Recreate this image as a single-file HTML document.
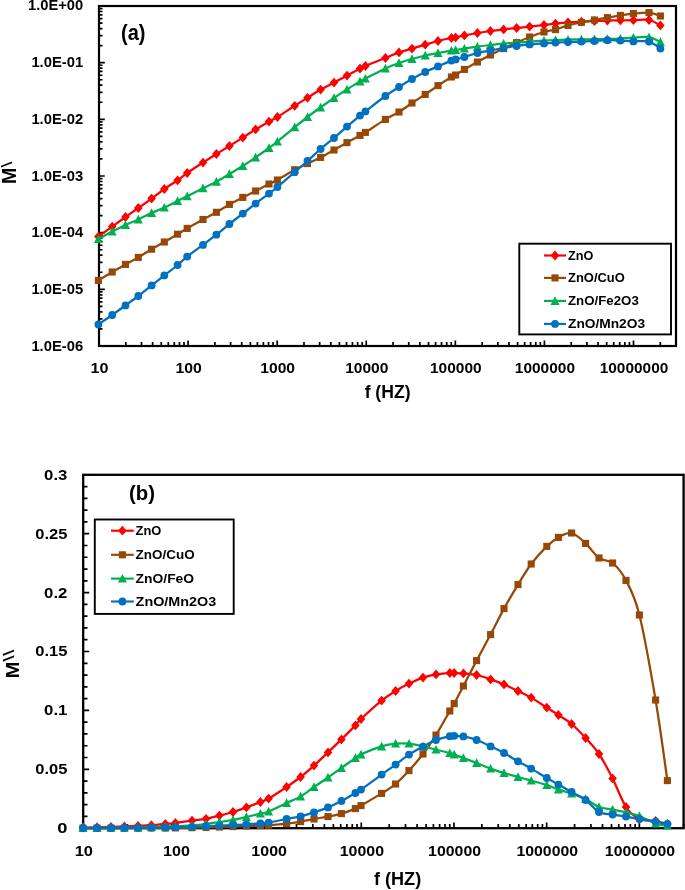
<!DOCTYPE html>
<html lang="en"><head><meta charset="utf-8"><title>Electric modulus plots</title>
<style>html,body{margin:0;padding:0;background:#fff}svg{display:block}text{font-family:"Liberation Sans",Arial,sans-serif;font-weight:bold;fill:#000}</style>
</head><body>
<svg width="685" height="890" viewBox="0 0 685 890">
<rect width="685" height="890" fill="#fff"/>
<g id="chart-a">
<path d="M99 62.67h5.8M99 45.61h3.5M99 35.63h3.5M99 28.55h3.5M99 23.06h3.5M99 18.57h3.5M99 14.78h3.5M99 11.49h3.5M99 8.59h3.5M99 119.33h5.8M99 102.27h3.5M99 92.3h3.5M99 85.22h3.5M99 79.73h3.5M99 75.24h3.5M99 71.44h3.5M99 68.16h3.5M99 65.26h3.5M99 176h5.8M99 158.94h3.5M99 148.96h3.5M99 141.88h3.5M99 136.39h3.5M99 131.9h3.5M99 128.11h3.5M99 124.82h3.5M99 121.93h3.5M99 232.67h5.8M99 215.61h3.5M99 205.63h3.5M99 198.55h3.5M99 193.06h3.5M99 188.57h3.5M99 184.78h3.5M99 181.49h3.5M99 178.59h3.5M99 289.33h5.8M99 272.27h3.5M99 262.3h3.5M99 255.22h3.5M99 249.73h3.5M99 245.24h3.5M99 241.44h3.5M99 238.16h3.5M99 235.26h3.5M99 346h5.8M99 328.94h3.5M99 318.96h3.5M99 311.88h3.5M99 306.39h3.5M99 301.9h3.5M99 298.11h3.5M99 294.82h3.5M99 291.93h3.5M99 6h5.8M99 346v-5.6M125.82 346v-4M141.5 346v-4M152.63 346v-4M161.27 346v-4M168.32 346v-4M174.28 346v-4M179.45 346v-4M184.01 346v-4M188.08 346v-5.6M214.9 346v-4M230.59 346v-4M241.72 346v-4M250.35 346v-4M257.4 346v-4M263.37 346v-4M268.53 346v-4M273.09 346v-4M277.17 346v-5.6M303.98 346v-4M319.67 346v-4M330.8 346v-4M339.43 346v-4M346.49 346v-4M352.45 346v-4M357.62 346v-4M362.17 346v-4M366.25 346v-5.6M393.06 346v-4M408.75 346v-4M419.88 346v-4M428.51 346v-4M435.57 346v-4M441.53 346v-4M446.7 346v-4M451.25 346v-4M455.33 346v-5.6M482.15 346v-4M497.83 346v-4M508.96 346v-4M517.6 346v-4M524.65 346v-4M530.61 346v-4M535.78 346v-4M540.34 346v-4M544.41 346v-5.6M571.23 346v-4M586.92 346v-4M598.05 346v-4M606.68 346v-4M613.73 346v-4M619.7 346v-4M624.86 346v-4M629.42 346v-4M633.5 346v-5.6M660.31 346v-4M676 346v-4" stroke="#000" stroke-width="1.7" fill="none"/>
<rect x="99" y="6" width="577" height="340" fill="none" stroke="#000" stroke-width="2.2"/>
<path d="M98.4 236.6C100.7 234.93 107.68 229.87 112.2 226.6C116.72 223.33 121.15 220.1 125.5 217C129.85 213.9 133.95 211.07 138.3 208C142.65 204.93 147.27 201.77 151.6 198.6C155.93 195.43 159.97 192.05 164.3 189C168.63 185.95 173.78 182.97 177.6 180.3C181.42 177.63 182.97 175.95 187.2 173C191.43 170.05 198.13 165.77 203 162.6C207.87 159.43 212 156.77 216.4 154C220.8 151.23 225 148.73 229.4 146C233.8 143.27 238.43 140.37 242.8 137.6C247.17 134.83 251.23 132.07 255.6 129.4C259.97 126.73 265.37 123.67 269 121.6C272.63 119.53 273.12 119.63 277.4 117C281.68 114.37 289.68 109 294.7 105.8C299.72 102.6 303.18 100.5 307.5 97.8C311.82 95.1 316.18 92.13 320.6 89.6C325.02 87.07 329.6 84.93 334 82.6C338.4 80.27 342.67 77.93 347 75.6C351.33 73.27 356.93 70.2 360 68.6C363.07 67 361.17 67.77 365.4 66C369.63 64.23 379.8 60.27 385.4 58C391 55.73 394.57 53.97 399 52.4C403.43 50.83 407.63 49.88 412 48.6C416.37 47.32 420.87 45.97 425.2 44.7C429.53 43.43 433.63 42.12 438 41C442.37 39.88 448.47 38.6 451.4 38C454.33 37.4 453.43 37.83 455.6 37.4C457.77 36.97 460.77 36.13 464.4 35.4C468.03 34.67 473.07 33.73 477.4 33C481.73 32.27 486.03 31.6 490.4 31C494.77 30.4 499.23 29.9 503.6 29.4C507.97 28.9 512.27 28.47 516.6 28C520.93 27.53 525.03 27.1 529.6 26.6C534.17 26.1 539.68 25.5 544 25C548.32 24.5 551.5 24.03 555.5 23.6C559.5 23.17 563.68 22.73 568 22.4C572.32 22.07 577 21.83 581.4 21.6C585.8 21.37 590.07 21.17 594.4 21C598.73 20.83 603.07 20.7 607.4 20.6C611.73 20.5 616.07 20.47 620.4 20.4C624.73 20.33 628.63 20.27 633.4 20.2C638.17 20.13 644.5 19.13 649 20C653.5 20.87 658.5 24.5 660.4 25.4" fill="none" stroke="#ff0000" stroke-width="2.25" stroke-linejoin="round" stroke-linecap="round"/>
<g><path d="M98.4 231.7L102.7 236.6L98.4 241.5L94.1 236.6Z" fill="#ff0000"/><path d="M112.2 221.7L116.5 226.6L112.2 231.5L107.9 226.6Z" fill="#ff0000"/><path d="M125.5 212.1L129.8 217L125.5 221.9L121.2 217Z" fill="#ff0000"/><path d="M138.3 203.1L142.6 208L138.3 212.9L134 208Z" fill="#ff0000"/><path d="M151.6 193.7L155.9 198.6L151.6 203.5L147.3 198.6Z" fill="#ff0000"/><path d="M164.3 184.1L168.6 189L164.3 193.9L160 189Z" fill="#ff0000"/><path d="M177.6 175.4L181.9 180.3L177.6 185.2L173.3 180.3Z" fill="#ff0000"/><path d="M187.2 168.1L191.5 173L187.2 177.9L182.9 173Z" fill="#ff0000"/><path d="M203 157.7L207.3 162.6L203 167.5L198.7 162.6Z" fill="#ff0000"/><path d="M216.4 149.1L220.7 154L216.4 158.9L212.1 154Z" fill="#ff0000"/><path d="M229.4 141.1L233.7 146L229.4 150.9L225.1 146Z" fill="#ff0000"/><path d="M242.8 132.7L247.1 137.6L242.8 142.5L238.5 137.6Z" fill="#ff0000"/><path d="M255.6 124.5L259.9 129.4L255.6 134.3L251.3 129.4Z" fill="#ff0000"/><path d="M269 116.7L273.3 121.6L269 126.5L264.7 121.6Z" fill="#ff0000"/><path d="M277.4 112.1L281.7 117L277.4 121.9L273.1 117Z" fill="#ff0000"/><path d="M294.7 100.9L299 105.8L294.7 110.7L290.4 105.8Z" fill="#ff0000"/><path d="M307.5 92.9L311.8 97.8L307.5 102.7L303.2 97.8Z" fill="#ff0000"/><path d="M320.6 84.7L324.9 89.6L320.6 94.5L316.3 89.6Z" fill="#ff0000"/><path d="M334 77.7L338.3 82.6L334 87.5L329.7 82.6Z" fill="#ff0000"/><path d="M347 70.7L351.3 75.6L347 80.5L342.7 75.6Z" fill="#ff0000"/><path d="M360 63.7L364.3 68.6L360 73.5L355.7 68.6Z" fill="#ff0000"/><path d="M365.4 61.1L369.7 66L365.4 70.9L361.1 66Z" fill="#ff0000"/><path d="M385.4 53.1L389.7 58L385.4 62.9L381.1 58Z" fill="#ff0000"/><path d="M399 47.5L403.3 52.4L399 57.3L394.7 52.4Z" fill="#ff0000"/><path d="M412 43.7L416.3 48.6L412 53.5L407.7 48.6Z" fill="#ff0000"/><path d="M425.2 39.8L429.5 44.7L425.2 49.6L420.9 44.7Z" fill="#ff0000"/><path d="M438 36.1L442.3 41L438 45.9L433.7 41Z" fill="#ff0000"/><path d="M451.4 33.1L455.7 38L451.4 42.9L447.1 38Z" fill="#ff0000"/><path d="M455.6 32.5L459.9 37.4L455.6 42.3L451.3 37.4Z" fill="#ff0000"/><path d="M464.4 30.5L468.7 35.4L464.4 40.3L460.1 35.4Z" fill="#ff0000"/><path d="M477.4 28.1L481.7 33L477.4 37.9L473.1 33Z" fill="#ff0000"/><path d="M490.4 26.1L494.7 31L490.4 35.9L486.1 31Z" fill="#ff0000"/><path d="M503.6 24.5L507.9 29.4L503.6 34.3L499.3 29.4Z" fill="#ff0000"/><path d="M516.6 23.1L520.9 28L516.6 32.9L512.3 28Z" fill="#ff0000"/><path d="M529.6 21.7L533.9 26.6L529.6 31.5L525.3 26.6Z" fill="#ff0000"/><path d="M544 20.1L548.3 25L544 29.9L539.7 25Z" fill="#ff0000"/><path d="M555.5 18.7L559.8 23.6L555.5 28.5L551.2 23.6Z" fill="#ff0000"/><path d="M568 17.5L572.3 22.4L568 27.3L563.7 22.4Z" fill="#ff0000"/><path d="M581.4 16.7L585.7 21.6L581.4 26.5L577.1 21.6Z" fill="#ff0000"/><path d="M594.4 16.1L598.7 21L594.4 25.9L590.1 21Z" fill="#ff0000"/><path d="M607.4 15.7L611.7 20.6L607.4 25.5L603.1 20.6Z" fill="#ff0000"/><path d="M620.4 15.5L624.7 20.4L620.4 25.3L616.1 20.4Z" fill="#ff0000"/><path d="M633.4 15.3L637.7 20.2L633.4 25.1L629.1 20.2Z" fill="#ff0000"/><path d="M649 15.1L653.3 20L649 24.9L644.7 20Z" fill="#ff0000"/><path d="M660.4 20.5L664.7 25.4L660.4 30.3L656.1 25.4Z" fill="#ff0000"/></g>
<path d="M98.4 280.4C100.7 279 107.68 274.67 112.2 272C116.72 269.33 121.15 266.83 125.5 264.4C129.85 261.97 133.95 259.93 138.3 257.4C142.65 254.87 147.27 251.77 151.6 249.2C155.93 246.63 159.97 244.5 164.3 242C168.63 239.5 173.78 236.47 177.6 234.2C181.42 231.93 182.97 230.85 187.2 228.4C191.43 225.95 198.13 222.18 203 219.5C207.87 216.82 212 214.82 216.4 212.3C220.8 209.78 225 206.88 229.4 204.4C233.8 201.92 238.43 199.63 242.8 197.4C247.17 195.17 251.23 193.23 255.6 191C259.97 188.77 265.37 185.83 269 184C272.63 182.17 273.12 182.38 277.4 180C281.68 177.62 289.68 172.43 294.7 169.7C299.72 166.97 303.18 165.65 307.5 163.6C311.82 161.55 316.18 159.67 320.6 157.4C325.02 155.13 329.6 152.47 334 150C338.4 147.53 342.67 145.03 347 142.6C351.33 140.17 356.93 137.1 360 135.4C363.07 133.7 361.17 135.07 365.4 132.4C369.63 129.73 379.8 122.8 385.4 119.4C391 116 394.57 114.73 399 112C403.43 109.27 407.63 105.93 412 103C416.37 100.07 420.87 97.3 425.2 94.4C429.53 91.5 433.63 88.5 438 85.6C442.37 82.7 448.47 78.77 451.4 77C454.33 75.23 453.43 76.27 455.6 75C457.77 73.73 460.77 71.57 464.4 69.4C468.03 67.23 473.07 64.4 477.4 62C481.73 59.6 486.03 57.23 490.4 55C494.77 52.77 499.23 50.67 503.6 48.6C507.97 46.53 512.27 44.53 516.6 42.6C520.93 40.67 525.03 38.77 529.6 37C534.17 35.23 539.68 33.23 544 32C548.32 30.77 551.5 30.7 555.5 29.6C559.5 28.5 563.68 26.6 568 25.4C572.32 24.2 577 23.3 581.4 22.4C585.8 21.5 590.07 20.8 594.4 20C598.73 19.2 603.07 18.37 607.4 17.6C611.73 16.83 616.07 16.07 620.4 15.4C624.73 14.73 628.63 14.07 633.4 13.6C638.17 13.13 644.5 12.2 649 12.6C653.5 13 658.5 15.43 660.4 16" fill="none" stroke="#974806" stroke-width="2.25" stroke-linejoin="round" stroke-linecap="round"/>
<g><rect x="94.85" y="276.85" width="7.1" height="7.1" fill="#974806"/><rect x="108.65" y="268.45" width="7.1" height="7.1" fill="#974806"/><rect x="121.95" y="260.85" width="7.1" height="7.1" fill="#974806"/><rect x="134.75" y="253.85" width="7.1" height="7.1" fill="#974806"/><rect x="148.05" y="245.65" width="7.1" height="7.1" fill="#974806"/><rect x="160.75" y="238.45" width="7.1" height="7.1" fill="#974806"/><rect x="174.05" y="230.65" width="7.1" height="7.1" fill="#974806"/><rect x="183.65" y="224.85" width="7.1" height="7.1" fill="#974806"/><rect x="199.45" y="215.95" width="7.1" height="7.1" fill="#974806"/><rect x="212.85" y="208.75" width="7.1" height="7.1" fill="#974806"/><rect x="225.85" y="200.85" width="7.1" height="7.1" fill="#974806"/><rect x="239.25" y="193.85" width="7.1" height="7.1" fill="#974806"/><rect x="252.05" y="187.45" width="7.1" height="7.1" fill="#974806"/><rect x="265.45" y="180.45" width="7.1" height="7.1" fill="#974806"/><rect x="273.85" y="176.45" width="7.1" height="7.1" fill="#974806"/><rect x="291.15" y="166.15" width="7.1" height="7.1" fill="#974806"/><rect x="303.95" y="160.05" width="7.1" height="7.1" fill="#974806"/><rect x="317.05" y="153.85" width="7.1" height="7.1" fill="#974806"/><rect x="330.45" y="146.45" width="7.1" height="7.1" fill="#974806"/><rect x="343.45" y="139.05" width="7.1" height="7.1" fill="#974806"/><rect x="356.45" y="131.85" width="7.1" height="7.1" fill="#974806"/><rect x="361.85" y="128.85" width="7.1" height="7.1" fill="#974806"/><rect x="381.85" y="115.85" width="7.1" height="7.1" fill="#974806"/><rect x="395.45" y="108.45" width="7.1" height="7.1" fill="#974806"/><rect x="408.45" y="99.45" width="7.1" height="7.1" fill="#974806"/><rect x="421.65" y="90.85" width="7.1" height="7.1" fill="#974806"/><rect x="434.45" y="82.05" width="7.1" height="7.1" fill="#974806"/><rect x="447.85" y="73.45" width="7.1" height="7.1" fill="#974806"/><rect x="452.05" y="71.45" width="7.1" height="7.1" fill="#974806"/><rect x="460.85" y="65.85" width="7.1" height="7.1" fill="#974806"/><rect x="473.85" y="58.45" width="7.1" height="7.1" fill="#974806"/><rect x="486.85" y="51.45" width="7.1" height="7.1" fill="#974806"/><rect x="500.05" y="45.05" width="7.1" height="7.1" fill="#974806"/><rect x="513.05" y="39.05" width="7.1" height="7.1" fill="#974806"/><rect x="526.05" y="33.45" width="7.1" height="7.1" fill="#974806"/><rect x="540.45" y="28.45" width="7.1" height="7.1" fill="#974806"/><rect x="551.95" y="26.05" width="7.1" height="7.1" fill="#974806"/><rect x="564.45" y="21.85" width="7.1" height="7.1" fill="#974806"/><rect x="577.85" y="18.85" width="7.1" height="7.1" fill="#974806"/><rect x="590.85" y="16.45" width="7.1" height="7.1" fill="#974806"/><rect x="603.85" y="14.05" width="7.1" height="7.1" fill="#974806"/><rect x="616.85" y="11.85" width="7.1" height="7.1" fill="#974806"/><rect x="629.85" y="10.05" width="7.1" height="7.1" fill="#974806"/><rect x="645.45" y="9.05" width="7.1" height="7.1" fill="#974806"/><rect x="656.85" y="12.45" width="7.1" height="7.1" fill="#974806"/></g>
<path d="M98.4 239C100.7 237.77 107.68 233.93 112.2 231.6C116.72 229.27 121.15 227.03 125.5 225C129.85 222.97 133.95 221.4 138.3 219.4C142.65 217.4 147.27 214.97 151.6 213C155.93 211.03 159.97 209.6 164.3 207.6C168.63 205.6 173.78 202.9 177.6 201C181.42 199.1 182.97 198.32 187.2 196.2C191.43 194.08 198.13 190.72 203 188.3C207.87 185.88 212 184.08 216.4 181.7C220.8 179.32 225 176.62 229.4 174C233.8 171.38 238.43 168.77 242.8 166C247.17 163.23 251.23 160.4 255.6 157.4C259.97 154.4 265.37 150.63 269 148C272.63 145.37 273.12 145.05 277.4 141.6C281.68 138.15 289.68 131.4 294.7 127.3C299.72 123.2 303.18 120.32 307.5 117C311.82 113.68 316.18 110.57 320.6 107.4C325.02 104.23 329.6 101 334 98C338.4 95 342.67 92.17 347 89.4C351.33 86.63 356.93 83.2 360 81.4C363.07 79.6 361.17 80.77 365.4 78.6C369.63 76.43 379.8 71 385.4 68.4C391 65.8 394.57 64.57 399 63C403.43 61.43 407.63 60.25 412 59C416.37 57.75 420.87 56.5 425.2 55.5C429.53 54.5 433.63 53.82 438 53C442.37 52.18 448.47 51.1 451.4 50.6C454.33 50.1 453.43 50.33 455.6 50C457.77 49.67 460.77 49.17 464.4 48.6C468.03 48.03 473.07 47.2 477.4 46.6C481.73 46 486.03 45.5 490.4 45C494.77 44.5 499.23 44 503.6 43.6C507.97 43.2 512.27 42.93 516.6 42.6C520.93 42.27 525.03 41.93 529.6 41.6C534.17 41.27 539.68 40.87 544 40.6C548.32 40.33 551.5 40.17 555.5 40C559.5 39.83 563.68 39.7 568 39.6C572.32 39.5 577 39.47 581.4 39.4C585.8 39.33 590.07 39.27 594.4 39.2C598.73 39.13 603.07 39.1 607.4 39C611.73 38.9 616.07 38.83 620.4 38.6C624.73 38.37 628.63 37.83 633.4 37.6C638.17 37.37 644.5 36.47 649 37.2C653.5 37.93 658.5 41.2 660.4 42" fill="none" stroke="#00b050" stroke-width="2.25" stroke-linejoin="round" stroke-linecap="round"/>
<g><path d="M98.4 234.3L102.9 243L93.9 243Z" fill="#00b050"/><path d="M112.2 226.9L116.7 235.6L107.7 235.6Z" fill="#00b050"/><path d="M125.5 220.3L130 229L121 229Z" fill="#00b050"/><path d="M138.3 214.7L142.8 223.4L133.8 223.4Z" fill="#00b050"/><path d="M151.6 208.3L156.1 217L147.1 217Z" fill="#00b050"/><path d="M164.3 202.9L168.8 211.6L159.8 211.6Z" fill="#00b050"/><path d="M177.6 196.3L182.1 205L173.1 205Z" fill="#00b050"/><path d="M187.2 191.5L191.7 200.2L182.7 200.2Z" fill="#00b050"/><path d="M203 183.6L207.5 192.3L198.5 192.3Z" fill="#00b050"/><path d="M216.4 177L220.9 185.7L211.9 185.7Z" fill="#00b050"/><path d="M229.4 169.3L233.9 178L224.9 178Z" fill="#00b050"/><path d="M242.8 161.3L247.3 170L238.3 170Z" fill="#00b050"/><path d="M255.6 152.7L260.1 161.4L251.1 161.4Z" fill="#00b050"/><path d="M269 143.3L273.5 152L264.5 152Z" fill="#00b050"/><path d="M277.4 136.9L281.9 145.6L272.9 145.6Z" fill="#00b050"/><path d="M294.7 122.6L299.2 131.3L290.2 131.3Z" fill="#00b050"/><path d="M307.5 112.3L312 121L303 121Z" fill="#00b050"/><path d="M320.6 102.7L325.1 111.4L316.1 111.4Z" fill="#00b050"/><path d="M334 93.3L338.5 102L329.5 102Z" fill="#00b050"/><path d="M347 84.7L351.5 93.4L342.5 93.4Z" fill="#00b050"/><path d="M360 76.7L364.5 85.4L355.5 85.4Z" fill="#00b050"/><path d="M365.4 73.9L369.9 82.6L360.9 82.6Z" fill="#00b050"/><path d="M385.4 63.7L389.9 72.4L380.9 72.4Z" fill="#00b050"/><path d="M399 58.3L403.5 67L394.5 67Z" fill="#00b050"/><path d="M412 54.3L416.5 63L407.5 63Z" fill="#00b050"/><path d="M425.2 50.8L429.7 59.5L420.7 59.5Z" fill="#00b050"/><path d="M438 48.3L442.5 57L433.5 57Z" fill="#00b050"/><path d="M451.4 45.9L455.9 54.6L446.9 54.6Z" fill="#00b050"/><path d="M455.6 45.3L460.1 54L451.1 54Z" fill="#00b050"/><path d="M464.4 43.9L468.9 52.6L459.9 52.6Z" fill="#00b050"/><path d="M477.4 41.9L481.9 50.6L472.9 50.6Z" fill="#00b050"/><path d="M490.4 40.3L494.9 49L485.9 49Z" fill="#00b050"/><path d="M503.6 38.9L508.1 47.6L499.1 47.6Z" fill="#00b050"/><path d="M516.6 37.9L521.1 46.6L512.1 46.6Z" fill="#00b050"/><path d="M529.6 36.9L534.1 45.6L525.1 45.6Z" fill="#00b050"/><path d="M544 35.9L548.5 44.6L539.5 44.6Z" fill="#00b050"/><path d="M555.5 35.3L560 44L551 44Z" fill="#00b050"/><path d="M568 34.9L572.5 43.6L563.5 43.6Z" fill="#00b050"/><path d="M581.4 34.7L585.9 43.4L576.9 43.4Z" fill="#00b050"/><path d="M594.4 34.5L598.9 43.2L589.9 43.2Z" fill="#00b050"/><path d="M607.4 34.3L611.9 43L602.9 43Z" fill="#00b050"/><path d="M620.4 33.9L624.9 42.6L615.9 42.6Z" fill="#00b050"/><path d="M633.4 32.9L637.9 41.6L628.9 41.6Z" fill="#00b050"/><path d="M649 32.5L653.5 41.2L644.5 41.2Z" fill="#00b050"/><path d="M660.4 37.3L664.9 46L655.9 46Z" fill="#00b050"/></g>
<path d="M98.4 324.4C100.7 322.83 107.68 318.17 112.2 315C116.72 311.83 121.15 308.57 125.5 305.4C129.85 302.23 133.95 299.33 138.3 296C142.65 292.67 147.27 288.83 151.6 285.4C155.93 281.97 159.97 278.8 164.3 275.4C168.63 272 173.78 268.13 177.6 265C181.42 261.87 182.97 259.95 187.2 256.6C191.43 253.25 198.13 248.55 203 244.9C207.87 241.25 212 238.18 216.4 234.7C220.8 231.22 225 227.52 229.4 224C233.8 220.48 238.43 217 242.8 213.6C247.17 210.2 251.23 206.93 255.6 203.6C259.97 200.27 265.37 196.37 269 193.6C272.63 190.83 273.12 190.57 277.4 187C281.68 183.43 289.68 176.53 294.7 172.2C299.72 167.87 303.18 164.87 307.5 161C311.82 157.13 316.18 152.83 320.6 149C325.02 145.17 329.6 141.73 334 138C338.4 134.27 342.67 130.33 347 126.6C351.33 122.87 356.93 118.13 360 115.6C363.07 113.07 361.17 114.67 365.4 111.4C369.63 108.13 379.8 100.07 385.4 96C391 91.93 394.57 89.83 399 87C403.43 84.17 407.63 81.5 412 79C416.37 76.5 420.87 74.1 425.2 72C429.53 69.9 433.63 68.3 438 66.4C442.37 64.5 448.47 61.77 451.4 60.6C454.33 59.43 453.43 60 455.6 59.4C457.77 58.8 460.77 58.07 464.4 57C468.03 55.93 473.07 54.1 477.4 53C481.73 51.9 486.03 51.23 490.4 50.4C494.77 49.57 499.23 48.73 503.6 48C507.97 47.27 512.27 46.6 516.6 46C520.93 45.4 525.03 44.83 529.6 44.4C534.17 43.97 539.68 43.7 544 43.4C548.32 43.1 551.5 42.83 555.5 42.6C559.5 42.37 563.68 42.17 568 42C572.32 41.83 577 41.77 581.4 41.6C585.8 41.43 590.07 41.23 594.4 41C598.73 40.77 603.07 40.27 607.4 40.2C611.73 40.13 616.07 40.4 620.4 40.6C624.73 40.8 628.63 41.23 633.4 41.4C638.17 41.57 644.5 40.4 649 41.6C653.5 42.8 658.5 47.43 660.4 48.6" fill="none" stroke="#0070c0" stroke-width="2.25" stroke-linejoin="round" stroke-linecap="round"/>
<g><circle cx="98.4" cy="324.4" r="3.9" fill="#0070c0"/><circle cx="112.2" cy="315" r="3.9" fill="#0070c0"/><circle cx="125.5" cy="305.4" r="3.9" fill="#0070c0"/><circle cx="138.3" cy="296" r="3.9" fill="#0070c0"/><circle cx="151.6" cy="285.4" r="3.9" fill="#0070c0"/><circle cx="164.3" cy="275.4" r="3.9" fill="#0070c0"/><circle cx="177.6" cy="265" r="3.9" fill="#0070c0"/><circle cx="187.2" cy="256.6" r="3.9" fill="#0070c0"/><circle cx="203" cy="244.9" r="3.9" fill="#0070c0"/><circle cx="216.4" cy="234.7" r="3.9" fill="#0070c0"/><circle cx="229.4" cy="224" r="3.9" fill="#0070c0"/><circle cx="242.8" cy="213.6" r="3.9" fill="#0070c0"/><circle cx="255.6" cy="203.6" r="3.9" fill="#0070c0"/><circle cx="269" cy="193.6" r="3.9" fill="#0070c0"/><circle cx="277.4" cy="187" r="3.9" fill="#0070c0"/><circle cx="294.7" cy="172.2" r="3.9" fill="#0070c0"/><circle cx="307.5" cy="161" r="3.9" fill="#0070c0"/><circle cx="320.6" cy="149" r="3.9" fill="#0070c0"/><circle cx="334" cy="138" r="3.9" fill="#0070c0"/><circle cx="347" cy="126.6" r="3.9" fill="#0070c0"/><circle cx="360" cy="115.6" r="3.9" fill="#0070c0"/><circle cx="365.4" cy="111.4" r="3.9" fill="#0070c0"/><circle cx="385.4" cy="96" r="3.9" fill="#0070c0"/><circle cx="399" cy="87" r="3.9" fill="#0070c0"/><circle cx="412" cy="79" r="3.9" fill="#0070c0"/><circle cx="425.2" cy="72" r="3.9" fill="#0070c0"/><circle cx="438" cy="66.4" r="3.9" fill="#0070c0"/><circle cx="451.4" cy="60.6" r="3.9" fill="#0070c0"/><circle cx="455.6" cy="59.4" r="3.9" fill="#0070c0"/><circle cx="464.4" cy="57" r="3.9" fill="#0070c0"/><circle cx="477.4" cy="53" r="3.9" fill="#0070c0"/><circle cx="490.4" cy="50.4" r="3.9" fill="#0070c0"/><circle cx="503.6" cy="48" r="3.9" fill="#0070c0"/><circle cx="516.6" cy="46" r="3.9" fill="#0070c0"/><circle cx="529.6" cy="44.4" r="3.9" fill="#0070c0"/><circle cx="544" cy="43.4" r="3.9" fill="#0070c0"/><circle cx="555.5" cy="42.6" r="3.9" fill="#0070c0"/><circle cx="568" cy="42" r="3.9" fill="#0070c0"/><circle cx="581.4" cy="41.6" r="3.9" fill="#0070c0"/><circle cx="594.4" cy="41" r="3.9" fill="#0070c0"/><circle cx="607.4" cy="40.2" r="3.9" fill="#0070c0"/><circle cx="620.4" cy="40.6" r="3.9" fill="#0070c0"/><circle cx="633.4" cy="41.4" r="3.9" fill="#0070c0"/><circle cx="649" cy="41.6" r="3.9" fill="#0070c0"/><circle cx="660.4" cy="48.6" r="3.9" fill="#0070c0"/></g>
<text x="83.2" y="9.9" font-size="14.7" text-anchor="end" textLength="55.2" lengthAdjust="spacingAndGlyphs">1.0E+00</text>
<text x="83.2" y="67.27" font-size="14.7" text-anchor="end" textLength="51.8" lengthAdjust="spacingAndGlyphs">1.0E-01</text>
<text x="83.2" y="123.93" font-size="14.7" text-anchor="end" textLength="51.8" lengthAdjust="spacingAndGlyphs">1.0E-02</text>
<text x="83.2" y="180.6" font-size="14.7" text-anchor="end" textLength="51.8" lengthAdjust="spacingAndGlyphs">1.0E-03</text>
<text x="83.2" y="237.27" font-size="14.7" text-anchor="end" textLength="51.8" lengthAdjust="spacingAndGlyphs">1.0E-04</text>
<text x="83.2" y="293.93" font-size="14.7" text-anchor="end" textLength="51.8" lengthAdjust="spacingAndGlyphs">1.0E-05</text>
<text x="83.2" y="350.6" font-size="14.7" text-anchor="end" textLength="51.8" lengthAdjust="spacingAndGlyphs">1.0E-06</text>
<text x="99.5" y="373" font-size="14.7" text-anchor="middle" textLength="17.9" lengthAdjust="spacingAndGlyphs">10</text>
<text x="188.58" y="373" font-size="14.7" text-anchor="middle" textLength="26.35" lengthAdjust="spacingAndGlyphs">100</text>
<text x="277.67" y="373" font-size="14.7" text-anchor="middle" textLength="34.8" lengthAdjust="spacingAndGlyphs">1000</text>
<text x="366.75" y="373" font-size="14.7" text-anchor="middle" textLength="43.25" lengthAdjust="spacingAndGlyphs">10000</text>
<text x="455.83" y="373" font-size="14.7" text-anchor="middle" textLength="51.7" lengthAdjust="spacingAndGlyphs">100000</text>
<text x="544.91" y="373" font-size="14.7" text-anchor="middle" textLength="60.15" lengthAdjust="spacingAndGlyphs">1000000</text>
<text x="634" y="373" font-size="14.7" text-anchor="middle" textLength="68.6" lengthAdjust="spacingAndGlyphs">10000000</text>
<text x="387.6" y="398.2" font-size="17.6" text-anchor="middle">f (HZ)</text>
<text x="121" y="40.4" font-size="22" textLength="24.5" lengthAdjust="spacingAndGlyphs">(a)</text>
<text transform="translate(16.2,183.9) rotate(-90) scale(0.99,1.0)" font-size="19.8">M</text>
<text transform="translate(11.9,167.6) rotate(-90) scale(1.4,1)" font-size="15.4" style="font-weight:normal">\</text>
<rect x="519.3" y="243.7" width="151.7" height="90.7" fill="#fff" stroke="#000" stroke-width="1.9"/>
<path d="M544 255.5H566" stroke="#ff0000" stroke-width="2.15" fill="none"/>
<path d="M555 250.6L559.3 255.5L555 260.4L550.7 255.5Z" fill="#ff0000"/>
<text x="568" y="260" font-size="12.7" textLength="25.3" lengthAdjust="spacingAndGlyphs">ZnO</text>
<path d="M544 277.9H566" stroke="#974806" stroke-width="2.15" fill="none"/>
<rect x="551.45" y="274.35" width="7.1" height="7.1" fill="#974806"/>
<text x="568" y="282.4" font-size="12.7" textLength="56.8" lengthAdjust="spacingAndGlyphs">ZnO/CuO</text>
<path d="M544 300.9H566" stroke="#00b050" stroke-width="2.15" fill="none"/>
<path d="M555 296.2L559.5 304.9L550.5 304.9Z" fill="#00b050"/>
<text x="568" y="305.4" font-size="12.7" textLength="70.8" lengthAdjust="spacingAndGlyphs">ZnO/Fe2O3</text>
<path d="M544 323.9H566" stroke="#0070c0" stroke-width="2.15" fill="none"/>
<circle cx="555" cy="323.9" r="3.9" fill="#0070c0"/>
<text x="568" y="328.4" font-size="12.7" textLength="77.1" lengthAdjust="spacingAndGlyphs">ZnO/Mn2O3</text>
</g>
<g id="chart-b">
<path d="M83.2 828.2h6M83.2 816.42h4.3M83.2 804.64h4.3M83.2 792.86h4.3M83.2 781.08h4.3M83.2 769.3h6M83.2 757.52h4.3M83.2 745.74h4.3M83.2 733.96h4.3M83.2 722.18h4.3M83.2 710.4h6M83.2 698.62h4.3M83.2 686.84h4.3M83.2 675.06h4.3M83.2 663.28h4.3M83.2 651.5h6M83.2 639.72h4.3M83.2 627.94h4.3M83.2 616.16h4.3M83.2 604.38h4.3M83.2 592.6h6M83.2 580.82h4.3M83.2 569.04h4.3M83.2 557.26h4.3M83.2 545.48h4.3M83.2 533.7h6M83.2 521.92h4.3M83.2 510.14h4.3M83.2 498.36h4.3M83.2 486.58h4.3M83.2 474.8h6M83.2 828.2v-5.8M111.1 828.2v-4.2M127.43 828.2v-4.2M139.01 828.2v-4.2M147.99 828.2v-4.2M155.33 828.2v-4.2M161.54 828.2v-4.2M166.91 828.2v-4.2M171.65 828.2v-4.2M175.9 828.2v-5.8M203.8 828.2v-4.2M220.12 828.2v-4.2M231.7 828.2v-4.2M240.69 828.2v-4.2M248.03 828.2v-4.2M254.23 828.2v-4.2M259.61 828.2v-4.2M264.35 828.2v-4.2M268.59 828.2v-5.8M296.5 828.2v-4.2M312.82 828.2v-4.2M324.4 828.2v-4.2M333.38 828.2v-4.2M340.72 828.2v-4.2M346.93 828.2v-4.2M352.3 828.2v-4.2M357.04 828.2v-4.2M361.29 828.2v-5.8M389.19 828.2v-4.2M405.51 828.2v-4.2M417.09 828.2v-4.2M426.08 828.2v-4.2M433.42 828.2v-4.2M439.62 828.2v-4.2M445 828.2v-4.2M449.74 828.2v-4.2M453.98 828.2v-5.8M481.89 828.2v-4.2M498.21 828.2v-4.2M509.79 828.2v-4.2M518.77 828.2v-4.2M526.11 828.2v-4.2M532.32 828.2v-4.2M537.69 828.2v-4.2M542.44 828.2v-4.2M546.68 828.2v-5.8M574.58 828.2v-4.2M590.9 828.2v-4.2M602.49 828.2v-4.2M611.47 828.2v-4.2M618.81 828.2v-4.2M625.01 828.2v-4.2M630.39 828.2v-4.2M635.13 828.2v-4.2M639.37 828.2v-5.8M667.28 828.2v-4.2M683.6 828.2v-4.2" stroke="#000" stroke-width="1.7" fill="none"/>
<rect x="83.2" y="474.8" width="600.4" height="353.4" fill="none" stroke="#000" stroke-width="2.3"/>
<path d="M83 827.5C85.33 827.45 92.33 827.32 97 827.2C101.67 827.08 106.43 826.93 111 826.8C115.57 826.67 119.9 826.57 124.4 826.4C128.9 826.23 133.5 826 138 825.8C142.5 825.6 146.83 825.5 151.4 825.2C155.97 824.9 161.4 824.37 165.4 824C169.4 823.63 170.97 823.57 175.4 823C179.83 822.43 186.9 821.3 192 820.6C197.1 819.9 201.43 819.63 206 818.8C210.57 817.97 214.9 816.73 219.4 815.6C223.9 814.47 228.5 813.37 233 812C237.5 810.63 241.83 809.07 246.4 807.4C250.97 805.73 256.7 803.47 260.4 802C264.1 800.53 264.23 801.1 268.6 798.6C272.97 796.1 281.27 790.6 286.6 787C291.93 783.4 296.03 780.57 300.6 777C305.17 773.43 309.43 769.7 314 765.6C318.57 761.5 323.43 756.77 328 752.4C332.57 748.03 336.83 743.9 341.4 739.4C345.97 734.9 352.13 728.8 355.4 725.4C358.67 722 356.63 723.13 361 719C365.37 714.87 375.83 705.27 381.6 700.6C387.37 695.93 391.03 693.83 395.6 691C400.17 688.17 404.43 685.83 409 683.6C413.57 681.37 418.5 679.13 423 677.6C427.5 676.07 431.53 675.17 436 674.4C440.47 673.63 446.77 673.23 449.8 673C452.83 672.77 451.93 672.93 454.2 673C456.47 673.07 459.67 673.07 463.4 673.4C467.13 673.73 472.07 674 476.6 675C481.13 676 486.03 677.83 490.6 679.4C495.17 680.97 499.43 682.47 504 684.4C508.57 686.33 513.47 688.8 518 691C522.53 693.2 526.4 694.83 531.2 697.6C536 700.37 542.27 704.7 546.8 707.6C551.33 710.5 554.27 712.27 558.4 715C562.53 717.73 567.07 720.17 571.6 724C576.13 727.83 581.03 733 585.6 738C590.17 743 594.5 747.27 599 754C603.5 760.73 608.1 769.57 612.6 778.4C617.1 787.23 621.53 800.23 626 807C630.47 813.77 634.47 816.67 639.4 819C644.33 821.33 650.93 820.17 655.6 821C660.27 821.83 665.43 823.5 667.4 824" fill="none" stroke="#ff0000" stroke-width="2.25" stroke-linejoin="round" stroke-linecap="round"/>
<g><path d="M83 822.6L87.3 827.5L83 832.4L78.7 827.5Z" fill="#ff0000"/><path d="M97 822.3L101.3 827.2L97 832.1L92.7 827.2Z" fill="#ff0000"/><path d="M111 821.9L115.3 826.8L111 831.7L106.7 826.8Z" fill="#ff0000"/><path d="M124.4 821.5L128.7 826.4L124.4 831.3L120.1 826.4Z" fill="#ff0000"/><path d="M138 820.9L142.3 825.8L138 830.7L133.7 825.8Z" fill="#ff0000"/><path d="M151.4 820.3L155.7 825.2L151.4 830.1L147.1 825.2Z" fill="#ff0000"/><path d="M165.4 819.1L169.7 824L165.4 828.9L161.1 824Z" fill="#ff0000"/><path d="M175.4 818.1L179.7 823L175.4 827.9L171.1 823Z" fill="#ff0000"/><path d="M192 815.7L196.3 820.6L192 825.5L187.7 820.6Z" fill="#ff0000"/><path d="M206 813.9L210.3 818.8L206 823.7L201.7 818.8Z" fill="#ff0000"/><path d="M219.4 810.7L223.7 815.6L219.4 820.5L215.1 815.6Z" fill="#ff0000"/><path d="M233 807.1L237.3 812L233 816.9L228.7 812Z" fill="#ff0000"/><path d="M246.4 802.5L250.7 807.4L246.4 812.3L242.1 807.4Z" fill="#ff0000"/><path d="M260.4 797.1L264.7 802L260.4 806.9L256.1 802Z" fill="#ff0000"/><path d="M268.6 793.7L272.9 798.6L268.6 803.5L264.3 798.6Z" fill="#ff0000"/><path d="M286.6 782.1L290.9 787L286.6 791.9L282.3 787Z" fill="#ff0000"/><path d="M300.6 772.1L304.9 777L300.6 781.9L296.3 777Z" fill="#ff0000"/><path d="M314 760.7L318.3 765.6L314 770.5L309.7 765.6Z" fill="#ff0000"/><path d="M328 747.5L332.3 752.4L328 757.3L323.7 752.4Z" fill="#ff0000"/><path d="M341.4 734.5L345.7 739.4L341.4 744.3L337.1 739.4Z" fill="#ff0000"/><path d="M355.4 720.5L359.7 725.4L355.4 730.3L351.1 725.4Z" fill="#ff0000"/><path d="M361 714.1L365.3 719L361 723.9L356.7 719Z" fill="#ff0000"/><path d="M381.6 695.7L385.9 700.6L381.6 705.5L377.3 700.6Z" fill="#ff0000"/><path d="M395.6 686.1L399.9 691L395.6 695.9L391.3 691Z" fill="#ff0000"/><path d="M409 678.7L413.3 683.6L409 688.5L404.7 683.6Z" fill="#ff0000"/><path d="M423 672.7L427.3 677.6L423 682.5L418.7 677.6Z" fill="#ff0000"/><path d="M436 669.5L440.3 674.4L436 679.3L431.7 674.4Z" fill="#ff0000"/><path d="M449.8 668.1L454.1 673L449.8 677.9L445.5 673Z" fill="#ff0000"/><path d="M454.2 668.1L458.5 673L454.2 677.9L449.9 673Z" fill="#ff0000"/><path d="M463.4 668.5L467.7 673.4L463.4 678.3L459.1 673.4Z" fill="#ff0000"/><path d="M476.6 670.1L480.9 675L476.6 679.9L472.3 675Z" fill="#ff0000"/><path d="M490.6 674.5L494.9 679.4L490.6 684.3L486.3 679.4Z" fill="#ff0000"/><path d="M504 679.5L508.3 684.4L504 689.3L499.7 684.4Z" fill="#ff0000"/><path d="M518 686.1L522.3 691L518 695.9L513.7 691Z" fill="#ff0000"/><path d="M531.2 692.7L535.5 697.6L531.2 702.5L526.9 697.6Z" fill="#ff0000"/><path d="M546.8 702.7L551.1 707.6L546.8 712.5L542.5 707.6Z" fill="#ff0000"/><path d="M558.4 710.1L562.7 715L558.4 719.9L554.1 715Z" fill="#ff0000"/><path d="M571.6 719.1L575.9 724L571.6 728.9L567.3 724Z" fill="#ff0000"/><path d="M585.6 733.1L589.9 738L585.6 742.9L581.3 738Z" fill="#ff0000"/><path d="M599 749.1L603.3 754L599 758.9L594.7 754Z" fill="#ff0000"/><path d="M612.6 773.5L616.9 778.4L612.6 783.3L608.3 778.4Z" fill="#ff0000"/><path d="M626 802.1L630.3 807L626 811.9L621.7 807Z" fill="#ff0000"/><path d="M639.4 814.1L643.7 819L639.4 823.9L635.1 819Z" fill="#ff0000"/><path d="M655.6 816.1L659.9 821L655.6 825.9L651.3 821Z" fill="#ff0000"/><path d="M667.4 819.1L671.7 824L667.4 828.9L663.1 824Z" fill="#ff0000"/></g>
<path d="M83 828.2C85.33 828.2 92.33 828.2 97 828.2C101.67 828.2 106.43 828.2 111 828.2C115.57 828.2 119.9 828.22 124.4 828.2C128.9 828.18 133.5 828.13 138 828.1C142.5 828.07 146.83 828.02 151.4 828C155.97 827.98 161.4 828.02 165.4 828C169.4 827.98 170.97 827.95 175.4 827.9C179.83 827.85 186.9 827.78 192 827.7C197.1 827.62 201.43 827.52 206 827.4C210.57 827.28 214.9 827.13 219.4 827C223.9 826.87 228.5 826.77 233 826.6C237.5 826.43 241.83 826.17 246.4 826C250.97 825.83 256.7 825.73 260.4 825.6C264.1 825.47 264.23 825.53 268.6 825.2C272.97 824.87 281.27 824.2 286.6 823.6C291.93 823 296.03 822.37 300.6 821.6C305.17 820.83 309.43 819.83 314 819C318.57 818.17 323.43 817.5 328 816.6C332.57 815.7 336.83 814.93 341.4 813.6C345.97 812.27 352.13 809.93 355.4 808.6C358.67 807.27 356.63 808.13 361 805.6C365.37 803.07 375.83 797 381.6 793.4C387.37 789.8 391.03 787.8 395.6 784C400.17 780.2 404.43 775.6 409 770.6C413.57 765.6 418.5 759.93 423 754C427.5 748.07 431.53 742.17 436 735C440.47 727.83 446.77 716.23 449.8 711C452.83 705.77 451.93 707.77 454.2 703.6C456.47 699.43 459.67 693.17 463.4 686C467.13 678.83 472.07 669.17 476.6 660.6C481.13 652.03 486.03 643.27 490.6 634.6C495.17 625.93 499.43 616.93 504 608.6C508.57 600.27 513.47 592.03 518 584.6C522.53 577.17 526.4 570.37 531.2 564C536 557.63 542.27 550.83 546.8 546.4C551.33 541.97 554.27 539.63 558.4 537.4C562.53 535.17 567.07 532 571.6 533C576.13 534 581.03 539.23 585.6 543.4C590.17 547.57 594.5 554.73 599 558C603.5 561.27 608.1 559.27 612.6 563C617.1 566.73 621.53 571.73 626 580.4C630.47 589.07 634.47 595.07 639.4 615C644.33 634.93 650.93 672.4 655.6 700C660.27 727.6 665.43 767.17 667.4 780.6" fill="none" stroke="#974806" stroke-width="2.25" stroke-linejoin="round" stroke-linecap="round"/>
<g><rect x="79.45" y="824.65" width="7.1" height="7.1" fill="#974806"/><rect x="93.45" y="824.65" width="7.1" height="7.1" fill="#974806"/><rect x="107.45" y="824.65" width="7.1" height="7.1" fill="#974806"/><rect x="120.85" y="824.65" width="7.1" height="7.1" fill="#974806"/><rect x="134.45" y="824.55" width="7.1" height="7.1" fill="#974806"/><rect x="147.85" y="824.45" width="7.1" height="7.1" fill="#974806"/><rect x="161.85" y="824.45" width="7.1" height="7.1" fill="#974806"/><rect x="171.85" y="824.35" width="7.1" height="7.1" fill="#974806"/><rect x="188.45" y="824.15" width="7.1" height="7.1" fill="#974806"/><rect x="202.45" y="823.85" width="7.1" height="7.1" fill="#974806"/><rect x="215.85" y="823.45" width="7.1" height="7.1" fill="#974806"/><rect x="229.45" y="823.05" width="7.1" height="7.1" fill="#974806"/><rect x="242.85" y="822.45" width="7.1" height="7.1" fill="#974806"/><rect x="256.85" y="822.05" width="7.1" height="7.1" fill="#974806"/><rect x="265.05" y="821.65" width="7.1" height="7.1" fill="#974806"/><rect x="283.05" y="820.05" width="7.1" height="7.1" fill="#974806"/><rect x="297.05" y="818.05" width="7.1" height="7.1" fill="#974806"/><rect x="310.45" y="815.45" width="7.1" height="7.1" fill="#974806"/><rect x="324.45" y="813.05" width="7.1" height="7.1" fill="#974806"/><rect x="337.85" y="810.05" width="7.1" height="7.1" fill="#974806"/><rect x="351.85" y="805.05" width="7.1" height="7.1" fill="#974806"/><rect x="357.45" y="802.05" width="7.1" height="7.1" fill="#974806"/><rect x="378.05" y="789.85" width="7.1" height="7.1" fill="#974806"/><rect x="392.05" y="780.45" width="7.1" height="7.1" fill="#974806"/><rect x="405.45" y="767.05" width="7.1" height="7.1" fill="#974806"/><rect x="419.45" y="750.45" width="7.1" height="7.1" fill="#974806"/><rect x="432.45" y="731.45" width="7.1" height="7.1" fill="#974806"/><rect x="446.25" y="707.45" width="7.1" height="7.1" fill="#974806"/><rect x="450.65" y="700.05" width="7.1" height="7.1" fill="#974806"/><rect x="459.85" y="682.45" width="7.1" height="7.1" fill="#974806"/><rect x="473.05" y="657.05" width="7.1" height="7.1" fill="#974806"/><rect x="487.05" y="631.05" width="7.1" height="7.1" fill="#974806"/><rect x="500.45" y="605.05" width="7.1" height="7.1" fill="#974806"/><rect x="514.45" y="581.05" width="7.1" height="7.1" fill="#974806"/><rect x="527.65" y="560.45" width="7.1" height="7.1" fill="#974806"/><rect x="543.25" y="542.85" width="7.1" height="7.1" fill="#974806"/><rect x="554.85" y="533.85" width="7.1" height="7.1" fill="#974806"/><rect x="568.05" y="529.45" width="7.1" height="7.1" fill="#974806"/><rect x="582.05" y="539.85" width="7.1" height="7.1" fill="#974806"/><rect x="595.45" y="554.45" width="7.1" height="7.1" fill="#974806"/><rect x="609.05" y="559.45" width="7.1" height="7.1" fill="#974806"/><rect x="622.45" y="576.85" width="7.1" height="7.1" fill="#974806"/><rect x="635.85" y="611.45" width="7.1" height="7.1" fill="#974806"/><rect x="652.05" y="696.45" width="7.1" height="7.1" fill="#974806"/><rect x="663.85" y="777.05" width="7.1" height="7.1" fill="#974806"/></g>
<path d="M83 828C85.33 828 92.33 828.03 97 828C101.67 827.97 106.43 827.87 111 827.8C115.57 827.73 119.9 827.67 124.4 827.6C128.9 827.53 133.5 827.5 138 827.4C142.5 827.3 146.83 827.13 151.4 827C155.97 826.87 161.4 826.73 165.4 826.6C169.4 826.47 170.97 826.4 175.4 826.2C179.83 826 186.9 825.77 192 825.4C197.1 825.03 201.43 824.57 206 824C210.57 823.43 214.9 822.67 219.4 822C223.9 821.33 228.5 820.83 233 820C237.5 819.17 241.83 818.07 246.4 817C250.97 815.93 256.7 814.5 260.4 813.6C264.1 812.7 264.23 813.37 268.6 811.6C272.97 809.83 281.27 805.53 286.6 803C291.93 800.47 296.03 799.07 300.6 796.4C305.17 793.73 309.43 790.15 314 787C318.57 783.85 323.43 780.67 328 777.5C332.57 774.33 336.83 771.25 341.4 768C345.97 764.75 352.13 760.27 355.4 758C358.67 755.73 356.63 756.33 361 754.4C365.37 752.47 375.83 748.2 381.6 746.4C387.37 744.6 391.03 744.07 395.6 743.6C400.17 743.13 404.43 743.13 409 743.6C413.57 744.07 418.5 745.4 423 746.4C427.5 747.4 431.53 748.48 436 749.6C440.47 750.72 446.77 752.28 449.8 753.1C452.83 753.92 451.93 753.68 454.2 754.5C456.47 755.32 459.67 756.58 463.4 758C467.13 759.42 472.07 761.23 476.6 763C481.13 764.77 486.03 766.93 490.6 768.6C495.17 770.27 499.43 771.6 504 773C508.57 774.4 513.47 775.73 518 777C522.53 778.27 526.4 779.27 531.2 780.6C536 781.93 542.27 783.53 546.8 785C551.33 786.47 554.27 787.97 558.4 789.4C562.53 790.83 567.07 792 571.6 793.6C576.13 795.2 581.03 796.77 585.6 799C590.17 801.23 594.5 805.23 599 807C603.5 808.77 608.1 808.7 612.6 809.6C617.1 810.5 621.53 811.33 626 812.4C630.47 813.47 634.47 814.15 639.4 816C644.33 817.85 650.93 821.87 655.6 823.5C660.27 825.13 665.43 825.42 667.4 825.8" fill="none" stroke="#00b050" stroke-width="2.25" stroke-linejoin="round" stroke-linecap="round"/>
<g><path d="M83 823.3L87.5 832L78.5 832Z" fill="#00b050"/><path d="M97 823.3L101.5 832L92.5 832Z" fill="#00b050"/><path d="M111 823.1L115.5 831.8L106.5 831.8Z" fill="#00b050"/><path d="M124.4 822.9L128.9 831.6L119.9 831.6Z" fill="#00b050"/><path d="M138 822.7L142.5 831.4L133.5 831.4Z" fill="#00b050"/><path d="M151.4 822.3L155.9 831L146.9 831Z" fill="#00b050"/><path d="M165.4 821.9L169.9 830.6L160.9 830.6Z" fill="#00b050"/><path d="M175.4 821.5L179.9 830.2L170.9 830.2Z" fill="#00b050"/><path d="M192 820.7L196.5 829.4L187.5 829.4Z" fill="#00b050"/><path d="M206 819.3L210.5 828L201.5 828Z" fill="#00b050"/><path d="M219.4 817.3L223.9 826L214.9 826Z" fill="#00b050"/><path d="M233 815.3L237.5 824L228.5 824Z" fill="#00b050"/><path d="M246.4 812.3L250.9 821L241.9 821Z" fill="#00b050"/><path d="M260.4 808.9L264.9 817.6L255.9 817.6Z" fill="#00b050"/><path d="M268.6 806.9L273.1 815.6L264.1 815.6Z" fill="#00b050"/><path d="M286.6 798.3L291.1 807L282.1 807Z" fill="#00b050"/><path d="M300.6 791.7L305.1 800.4L296.1 800.4Z" fill="#00b050"/><path d="M314 782.3L318.5 791L309.5 791Z" fill="#00b050"/><path d="M328 772.8L332.5 781.5L323.5 781.5Z" fill="#00b050"/><path d="M341.4 763.3L345.9 772L336.9 772Z" fill="#00b050"/><path d="M355.4 753.3L359.9 762L350.9 762Z" fill="#00b050"/><path d="M361 749.7L365.5 758.4L356.5 758.4Z" fill="#00b050"/><path d="M381.6 741.7L386.1 750.4L377.1 750.4Z" fill="#00b050"/><path d="M395.6 738.9L400.1 747.6L391.1 747.6Z" fill="#00b050"/><path d="M409 738.9L413.5 747.6L404.5 747.6Z" fill="#00b050"/><path d="M423 741.7L427.5 750.4L418.5 750.4Z" fill="#00b050"/><path d="M436 744.9L440.5 753.6L431.5 753.6Z" fill="#00b050"/><path d="M449.8 748.4L454.3 757.1L445.3 757.1Z" fill="#00b050"/><path d="M454.2 749.8L458.7 758.5L449.7 758.5Z" fill="#00b050"/><path d="M463.4 753.3L467.9 762L458.9 762Z" fill="#00b050"/><path d="M476.6 758.3L481.1 767L472.1 767Z" fill="#00b050"/><path d="M490.6 763.9L495.1 772.6L486.1 772.6Z" fill="#00b050"/><path d="M504 768.3L508.5 777L499.5 777Z" fill="#00b050"/><path d="M518 772.3L522.5 781L513.5 781Z" fill="#00b050"/><path d="M531.2 775.9L535.7 784.6L526.7 784.6Z" fill="#00b050"/><path d="M546.8 780.3L551.3 789L542.3 789Z" fill="#00b050"/><path d="M558.4 784.7L562.9 793.4L553.9 793.4Z" fill="#00b050"/><path d="M571.6 788.9L576.1 797.6L567.1 797.6Z" fill="#00b050"/><path d="M585.6 794.3L590.1 803L581.1 803Z" fill="#00b050"/><path d="M599 802.3L603.5 811L594.5 811Z" fill="#00b050"/><path d="M612.6 804.9L617.1 813.6L608.1 813.6Z" fill="#00b050"/><path d="M626 807.7L630.5 816.4L621.5 816.4Z" fill="#00b050"/><path d="M639.4 811.3L643.9 820L634.9 820Z" fill="#00b050"/><path d="M655.6 818.8L660.1 827.5L651.1 827.5Z" fill="#00b050"/><path d="M667.4 821.1L671.9 829.8L662.9 829.8Z" fill="#00b050"/></g>
<path d="M83 828C85.33 828 92.33 828 97 828C101.67 828 106.43 828 111 828C115.57 828 119.9 828.03 124.4 828C128.9 827.97 133.5 827.87 138 827.8C142.5 827.73 146.83 827.67 151.4 827.6C155.97 827.53 161.4 827.47 165.4 827.4C169.4 827.33 170.97 827.3 175.4 827.2C179.83 827.1 186.9 827 192 826.8C197.1 826.6 201.43 826.2 206 826C210.57 825.8 214.9 825.77 219.4 825.6C223.9 825.43 228.5 825.2 233 825C237.5 824.8 241.83 824.67 246.4 824.4C250.97 824.13 256.7 823.7 260.4 823.4C264.1 823.1 264.23 823.33 268.6 822.6C272.97 821.87 281.27 820.03 286.6 819C291.93 817.97 296.03 817.5 300.6 816.4C305.17 815.3 309.43 813.9 314 812.4C318.57 810.9 323.43 809.3 328 807.4C332.57 805.5 336.83 803.4 341.4 801C345.97 798.6 352.13 794.9 355.4 793C358.67 791.1 356.63 792.67 361 789.6C365.37 786.53 375.83 778.77 381.6 774.6C387.37 770.43 391.03 767.93 395.6 764.6C400.17 761.27 404.43 757.6 409 754.6C413.57 751.6 418.5 749.03 423 746.6C427.5 744.17 431.53 741.73 436 740C440.47 738.27 446.77 736.9 449.8 736.2C452.83 735.5 451.93 735.77 454.2 735.8C456.47 735.83 459.67 735.7 463.4 736.4C467.13 737.1 472.07 738.33 476.6 740C481.13 741.67 486.03 744.23 490.6 746.4C495.17 748.57 499.43 750.5 504 753C508.57 755.5 513.47 758.8 518 761.4C522.53 764 526.4 765.83 531.2 768.6C536 771.37 542.27 775.33 546.8 778C551.33 780.67 554.27 782.27 558.4 784.6C562.53 786.93 567.07 789.43 571.6 792C576.13 794.57 581.03 796.67 585.6 800C590.17 803.33 594.5 809.57 599 812C603.5 814.43 608.1 813.83 612.6 814.6C617.1 815.37 621.53 815.87 626 816.6C630.47 817.33 634.47 818.17 639.4 819C644.33 819.83 650.93 820.77 655.6 821.6C660.27 822.43 665.43 823.6 667.4 824" fill="none" stroke="#0070c0" stroke-width="2.25" stroke-linejoin="round" stroke-linecap="round"/>
<g><circle cx="83" cy="828" r="3.9" fill="#0070c0"/><circle cx="97" cy="828" r="3.9" fill="#0070c0"/><circle cx="111" cy="828" r="3.9" fill="#0070c0"/><circle cx="124.4" cy="828" r="3.9" fill="#0070c0"/><circle cx="138" cy="827.8" r="3.9" fill="#0070c0"/><circle cx="151.4" cy="827.6" r="3.9" fill="#0070c0"/><circle cx="165.4" cy="827.4" r="3.9" fill="#0070c0"/><circle cx="175.4" cy="827.2" r="3.9" fill="#0070c0"/><circle cx="192" cy="826.8" r="3.9" fill="#0070c0"/><circle cx="206" cy="826" r="3.9" fill="#0070c0"/><circle cx="219.4" cy="825.6" r="3.9" fill="#0070c0"/><circle cx="233" cy="825" r="3.9" fill="#0070c0"/><circle cx="246.4" cy="824.4" r="3.9" fill="#0070c0"/><circle cx="260.4" cy="823.4" r="3.9" fill="#0070c0"/><circle cx="268.6" cy="822.6" r="3.9" fill="#0070c0"/><circle cx="286.6" cy="819" r="3.9" fill="#0070c0"/><circle cx="300.6" cy="816.4" r="3.9" fill="#0070c0"/><circle cx="314" cy="812.4" r="3.9" fill="#0070c0"/><circle cx="328" cy="807.4" r="3.9" fill="#0070c0"/><circle cx="341.4" cy="801" r="3.9" fill="#0070c0"/><circle cx="355.4" cy="793" r="3.9" fill="#0070c0"/><circle cx="361" cy="789.6" r="3.9" fill="#0070c0"/><circle cx="381.6" cy="774.6" r="3.9" fill="#0070c0"/><circle cx="395.6" cy="764.6" r="3.9" fill="#0070c0"/><circle cx="409" cy="754.6" r="3.9" fill="#0070c0"/><circle cx="423" cy="746.6" r="3.9" fill="#0070c0"/><circle cx="436" cy="740" r="3.9" fill="#0070c0"/><circle cx="449.8" cy="736.2" r="3.9" fill="#0070c0"/><circle cx="454.2" cy="735.8" r="3.9" fill="#0070c0"/><circle cx="463.4" cy="736.4" r="3.9" fill="#0070c0"/><circle cx="476.6" cy="740" r="3.9" fill="#0070c0"/><circle cx="490.6" cy="746.4" r="3.9" fill="#0070c0"/><circle cx="504" cy="753" r="3.9" fill="#0070c0"/><circle cx="518" cy="761.4" r="3.9" fill="#0070c0"/><circle cx="531.2" cy="768.6" r="3.9" fill="#0070c0"/><circle cx="546.8" cy="778" r="3.9" fill="#0070c0"/><circle cx="558.4" cy="784.6" r="3.9" fill="#0070c0"/><circle cx="571.6" cy="792" r="3.9" fill="#0070c0"/><circle cx="585.6" cy="800" r="3.9" fill="#0070c0"/><circle cx="599" cy="812" r="3.9" fill="#0070c0"/><circle cx="612.6" cy="814.6" r="3.9" fill="#0070c0"/><circle cx="626" cy="816.6" r="3.9" fill="#0070c0"/><circle cx="639.4" cy="819" r="3.9" fill="#0070c0"/><circle cx="655.6" cy="821.6" r="3.9" fill="#0070c0"/><circle cx="667.4" cy="824" r="3.9" fill="#0070c0"/></g>
<text x="67.4" y="833.1" font-size="14.7" text-anchor="end" textLength="10.2" lengthAdjust="spacingAndGlyphs">0</text>
<text x="67.4" y="774.2" font-size="14.7" text-anchor="end" textLength="32.1" lengthAdjust="spacingAndGlyphs">0.05</text>
<text x="67.4" y="715.3" font-size="14.7" text-anchor="end" textLength="23.3" lengthAdjust="spacingAndGlyphs">0.1</text>
<text x="67.4" y="656.4" font-size="14.7" text-anchor="end" textLength="32.1" lengthAdjust="spacingAndGlyphs">0.15</text>
<text x="67.4" y="597.5" font-size="14.7" text-anchor="end" textLength="23.3" lengthAdjust="spacingAndGlyphs">0.2</text>
<text x="67.4" y="538.6" font-size="14.7" text-anchor="end" textLength="32.1" lengthAdjust="spacingAndGlyphs">0.25</text>
<text x="67.4" y="479.7" font-size="14.7" text-anchor="end" textLength="23.3" lengthAdjust="spacingAndGlyphs">0.3</text>
<text x="83.8" y="855.9" font-size="14.7" text-anchor="middle" textLength="18.3" lengthAdjust="spacingAndGlyphs">10</text>
<text x="176.5" y="855.9" font-size="14.7" text-anchor="middle" textLength="26.95" lengthAdjust="spacingAndGlyphs">100</text>
<text x="269.19" y="855.9" font-size="14.7" text-anchor="middle" textLength="35.6" lengthAdjust="spacingAndGlyphs">1000</text>
<text x="361.89" y="855.9" font-size="14.7" text-anchor="middle" textLength="44.25" lengthAdjust="spacingAndGlyphs">10000</text>
<text x="454.58" y="855.9" font-size="14.7" text-anchor="middle" textLength="52.9" lengthAdjust="spacingAndGlyphs">100000</text>
<text x="547.28" y="855.9" font-size="14.7" text-anchor="middle" textLength="61.55" lengthAdjust="spacingAndGlyphs">1000000</text>
<text x="639.97" y="855.9" font-size="14.7" text-anchor="middle" textLength="70.2" lengthAdjust="spacingAndGlyphs">10000000</text>
<text x="397.6" y="885.3" font-size="18.1" text-anchor="middle">f (HZ)</text>
<text x="129" y="500.2" font-size="21" textLength="26" lengthAdjust="spacingAndGlyphs">(b)</text>
<text transform="translate(18.8,678.3) rotate(-90) scale(1.0,0.92)" font-size="19.8">M</text>
<text transform="translate(13.9,661.6) rotate(-90) scale(1.38,1)" font-size="15.4" style="font-weight:normal;stroke:#000;stroke-width:0.15">\\</text>
<rect x="94.8" y="519.5" width="138.9" height="94.4" fill="#fff" stroke="#000" stroke-width="1.9"/>
<path d="M111 530.7H133.8" stroke="#ff0000" stroke-width="2.15" fill="none"/>
<path d="M122.4 525.8L126.7 530.7L122.4 535.6L118.1 530.7Z" fill="#ff0000"/>
<text x="135.6" y="535.2" font-size="13.0" textLength="25.8" lengthAdjust="spacingAndGlyphs">ZnO</text>
<path d="M111 554.8H133.8" stroke="#974806" stroke-width="2.15" fill="none"/>
<rect x="118.85" y="551.25" width="7.1" height="7.1" fill="#974806"/>
<text x="135.6" y="559.3" font-size="13.0" textLength="59" lengthAdjust="spacingAndGlyphs">ZnO/CuO</text>
<path d="M111 578.6H133.8" stroke="#00b050" stroke-width="2.15" fill="none"/>
<path d="M122.4 573.9L126.9 582.6L117.9 582.6Z" fill="#00b050"/>
<text x="135.6" y="583.1" font-size="13.0" textLength="58.5" lengthAdjust="spacingAndGlyphs">ZnO/FeO</text>
<path d="M111 601.5H133.8" stroke="#0070c0" stroke-width="2.15" fill="none"/>
<circle cx="122.4" cy="601.5" r="3.9" fill="#0070c0"/>
<text x="135.6" y="606" font-size="13.0" textLength="80.7" lengthAdjust="spacingAndGlyphs">ZnO/Mn2O3</text>
</g>
</svg>
</body></html>
